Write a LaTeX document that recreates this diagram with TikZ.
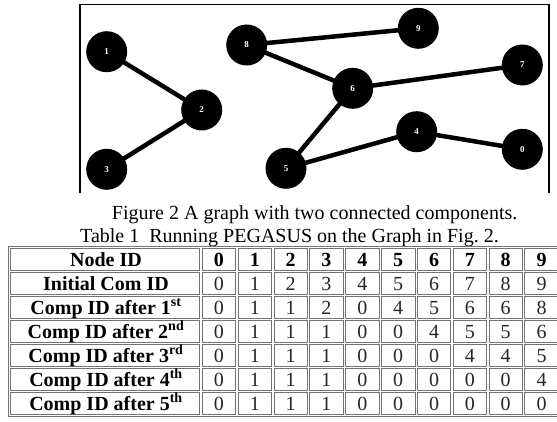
\documentclass[tikz,border=0pt]{standalone}
\usepackage{fontspec}
\setmainfont{Liberation Serif}
\pgfdeclarelayer{bg}
\pgfsetlayers{bg,main}
\begin{document}
\begin{tikzpicture}[x=1pt,y=-1pt,
  vertex/.style={circle, fill=black, minimum size=41pt, inner sep=0pt, text=white,
    font=\fontsize{9}{10}\selectfont\bfseries},
  edge/.style={line width=4.5pt},
  frameline/.style={line width=1.6pt},
  cell/.style={draw=black!55, line width=0.8pt},
  captext/.style={font=\fontsize{20}{24}\selectfont, anchor=base west, inner sep=0pt},
  hdr/.style={font=\fontsize{20}{24}\selectfont\bfseries, anchor=base, inner sep=0pt},
  val/.style={font=\fontsize{20}{24}\selectfont, anchor=base, inner sep=0pt, text=black!85},
]
\useasboundingbox (0,0) rectangle (557,422);
\clip (0,0) rectangle (557,422);

% figure frame
\draw[frameline] (80,193) -- (80,4.7) -- (549,4.7) -- (549,193);

% graph nodes
\node[vertex] (n1) at (106.7,51.7) {1};
\node[vertex] (n2) at (201.7,110) {2};
\node[vertex] (n3) at (106.7,169.3) {3};
\node[vertex] (n8) at (246.7,45) {8};
\node[vertex] (n9) at (418.3,28.3) {9};
\node[vertex] (n6) at (352.7,88.3) {6};
\node[vertex] (n7) at (522.3,65) {7};
\node[vertex] (n4) at (416.7,131.7) {4};
\node[vertex] (n0) at (522.3,149.3) {0};
\node[vertex] (n5) at (286,168.3) {5};

\begin{pgfonlayer}{bg}
\draw[edge] (n1.center) -- (n2.center);
\draw[edge] (n2.center) -- (n3.center);
\draw[edge] (n8.center) -- (n9.center);
\draw[edge] (n8.center) -- (n6.center);
\draw[edge] (n6.center) -- (n7.center);
\draw[edge] (n6.center) -- (n5.center);
\draw[edge] (n5.center) -- (n4.center);
\draw[edge] (n4.center) -- (n0.center);
\end{pgfonlayer}

% captions
\node[captext] (figcap) at (111.7,219.5) {Figure 2 A graph with two connected components.};
\node[captext] (tabcap) at (80,242.3) {Table 1\ \ Running PEGASUS on the Graph in Fig.~2.};

% table grid
\draw[cell] (8.8,246.7) rectangle (561,416.3);
\foreach \r in {0,...,6} {
  \pgfmathsetmacro\ya{247.5+24*\r+1.2}
  \pgfmathsetmacro\yb{247.5+24*(\r+1)-1.2}
  \draw[cell] (10.8,\ya) rectangle (199.8,\yb);
  \foreach \c in {0,...,9} {
    \pgfmathsetmacro\xa{201+35.85*\c+1.2}
    \pgfmathsetmacro\xb{201+35.85*(\c+1)-1.2}
    \draw[cell] (\xa,\ya) rectangle (\xb,\yb);
  }
}

% table text
\node[hdr] (r0l) at (106,266.5) {Node ID};
\foreach \v [count=\c from 0] in {0,1,2,3,4,5,6,7,8,9}
  \node[hdr] (r0c\c) at ({201+35.85*\c+17.925},266.5) {\v};
\node[hdr] (r1l) at (106,290.5) {Initial Com ID};
\foreach \v [count=\c from 0] in {0,1,2,3,4,5,6,7,8,9}
  \node[val] (r1c\c) at ({201+35.85*\c+17.925},290.5) {\v};
\node[hdr] (r2l) at (106,314.5) {Comp ID after 1\textsuperscript{st}};
\foreach \v [count=\c from 0] in {0,1,1,2,0,4,5,6,6,8}
  \node[val] (r2c\c) at ({201+35.85*\c+17.925},314.5) {\v};
\node[hdr] (r3l) at (106,338.5) {Comp ID after 2\textsuperscript{nd}};
\foreach \v [count=\c from 0] in {0,1,1,1,0,0,4,5,5,6}
  \node[val] (r3c\c) at ({201+35.85*\c+17.925},338.5) {\v};
\node[hdr] (r4l) at (106,362.5) {Comp ID after 3\textsuperscript{rd}};
\foreach \v [count=\c from 0] in {0,1,1,1,0,0,0,4,4,5}
  \node[val] (r4c\c) at ({201+35.85*\c+17.925},362.5) {\v};
\node[hdr] (r5l) at (106,386.5) {Comp ID after 4\textsuperscript{th}};
\foreach \v [count=\c from 0] in {0,1,1,1,0,0,0,0,0,4}
  \node[val] (r5c\c) at ({201+35.85*\c+17.925},386.5) {\v};
\node[hdr] (r6l) at (106,410.5) {Comp ID after 5\textsuperscript{th}};
\foreach \v [count=\c from 0] in {0,1,1,1,0,0,0,0,0,0}
  \node[val] (r6c\c) at ({201+35.85*\c+17.925},410.5) {\v};
\end{tikzpicture}
\end{document}
